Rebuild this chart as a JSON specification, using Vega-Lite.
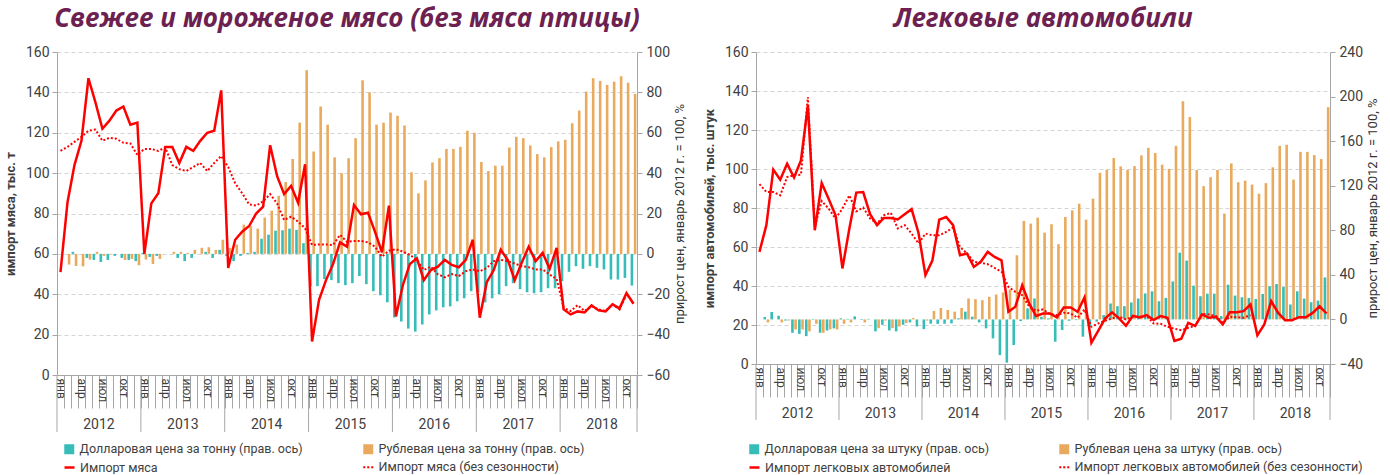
{
  "$schema": "https://vega.github.io/schema/vega-lite/v6.json",
  "padding": {"left": 4, "top": 6, "right": 0, "bottom": 0},
  "background": "white",
  "config": {
    "view": {"stroke": null},
    "font": "Roboto",
    "axis": {"labelFont": "Roboto", "titleFont": "Roboto", "labelColor": "#404040", "titleColor": "#404040", "domainColor": "#a6a6a6", "tickColor": "#a6a6a6", "labelFontSize": 14},
    "legend": {"labelFont": "Roboto", "labelFontSize": 12.5, "labelColor": "#404040", "labelLimit": 400},
    "title": {"font": "Open Sans"},
    "concat": {"spacing": 16}
  },
  "datasets": {
    "years": [
      {"m":"2012-07","yr":"2012"},{"m":"2013-07","yr":"2013"},{"m":"2014-07","yr":"2014"},{"m":"2015-07","yr":"2015"},{"m":"2016-07","yr":"2016"},{"m":"2017-07","yr":"2017"},{"m":"2018-07","yr":"2018"}
    ],
    "yearEnds": [
      {"m":"2012-12"},{"m":"2013-12"},{"m":"2014-12"},{"m":"2015-12"},{"m":"2016-12"},{"m":"2017-12"},{"m":"2018-11"}
    ],
    "yearStart": [{"m":"2012-01"}],
    "meat": [
      {"m":"2012-01","imp":51,"sa":111,"usd":0,"rub":0},
      {"m":"2012-02","imp":85.5,"sa":113,"usd":0,"rub":-5.3},
      {"m":"2012-03","imp":104,"sa":115.5,"usd":1,"rub":-6},
      {"m":"2012-04","imp":116,"sa":118,"usd":0,"rub":-6.2},
      {"m":"2012-05","imp":147,"sa":121,"usd":-2,"rub":-2.8},
      {"m":"2012-06","imp":135,"sa":121.6,"usd":-3,"rub":1},
      {"m":"2012-07","imp":122,"sa":116,"usd":-4,"rub":-1},
      {"m":"2012-08","imp":126,"sa":117.5,"usd":-3,"rub":-0.3},
      {"m":"2012-09","imp":131,"sa":117,"usd":-1,"rub":0},
      {"m":"2012-10","imp":133,"sa":115,"usd":-2,"rub":-3},
      {"m":"2012-11","imp":124,"sa":114.7,"usd":-3,"rub":-2.5},
      {"m":"2012-12","imp":125,"sa":109,"usd":-3.6,"rub":-5.6},
      {"m":"2013-01","imp":60,"sa":112,"usd":0.5,"rub":-2.8},
      {"m":"2013-02","imp":85,"sa":112,"usd":-1.5,"rub":-5},
      {"m":"2013-03","imp":90,"sa":111,"usd":-1,"rub":-2.5},
      {"m":"2013-04","imp":113,"sa":112.7,"usd":0,"rub":0},
      {"m":"2013-05","imp":113,"sa":104,"usd":0,"rub":1},
      {"m":"2013-06","imp":105,"sa":102,"usd":-2,"rub":1},
      {"m":"2013-07","imp":113,"sa":101,"usd":-3.6,"rub":0.5},
      {"m":"2013-08","imp":111,"sa":103,"usd":-2,"rub":2},
      {"m":"2013-09","imp":116,"sa":105,"usd":0,"rub":3},
      {"m":"2013-10","imp":120,"sa":101,"usd":1,"rub":3.3},
      {"m":"2013-11","imp":121,"sa":105,"usd":-2,"rub":2},
      {"m":"2013-12","imp":141,"sa":108.5,"usd":2,"rub":7},
      {"m":"2014-01","imp":53,"sa":103,"usd":-1,"rub":3},
      {"m":"2014-02","imp":67,"sa":95,"usd":-3.6,"rub":4.6},
      {"m":"2014-03","imp":71,"sa":90,"usd":-1,"rub":14.5},
      {"m":"2014-04","imp":73.8,"sa":84.5,"usd":0.5,"rub":13.7},
      {"m":"2014-05","imp":80,"sa":83.9,"usd":1,"rub":12.5},
      {"m":"2014-06","imp":83.4,"sa":86,"usd":7.5,"rub":18},
      {"m":"2014-07","imp":113.8,"sa":89.6,"usd":9.5,"rub":21.4},
      {"m":"2014-08","imp":98.5,"sa":85,"usd":11.5,"rub":28.8},
      {"m":"2014-09","imp":89.6,"sa":76.8,"usd":11.7,"rub":35.6},
      {"m":"2014-10","imp":93.7,"sa":78.4,"usd":12.5,"rub":47},
      {"m":"2014-11","imp":85.3,"sa":76,"usd":11.9,"rub":65},
      {"m":"2014-12","imp":104.4,"sa":72.7,"usd":5.3,"rub":91},
      {"m":"2015-01","imp":16.6,"sa":64.4,"usd":-16,"rub":50.7},
      {"m":"2015-02","imp":37.2,"sa":64.7,"usd":-16,"rub":73},
      {"m":"2015-03","imp":47,"sa":64.7,"usd":-12.5,"rub":64},
      {"m":"2015-04","imp":54.9,"sa":64.4,"usd":-13,"rub":47.8},
      {"m":"2015-05","imp":65.7,"sa":69.4,"usd":-14.5,"rub":40},
      {"m":"2015-06","imp":63.6,"sa":66,"usd":-15.5,"rub":47.4},
      {"m":"2015-07","imp":84.2,"sa":66.4,"usd":-14.5,"rub":57.3},
      {"m":"2015-08","imp":79.6,"sa":66.4,"usd":-11,"rub":86},
      {"m":"2015-09","imp":80.4,"sa":65.7,"usd":-15,"rub":80},
      {"m":"2015-10","imp":71,"sa":63.6,"usd":-18.5,"rub":64},
      {"m":"2015-11","imp":60.8,"sa":58.6,"usd":-20.5,"rub":65},
      {"m":"2015-12","imp":83.9,"sa":61.6,"usd":-24,"rub":70},
      {"m":"2016-01","imp":29,"sa":62.3,"usd":-31.5,"rub":68.4},
      {"m":"2016-02","imp":44.6,"sa":61.1,"usd":-33.5,"rub":63.6},
      {"m":"2016-03","imp":55,"sa":59.5,"usd":-37,"rub":40.4},
      {"m":"2016-04","imp":57.8,"sa":57,"usd":-38.5,"rub":30},
      {"m":"2016-05","imp":47,"sa":52,"usd":-35,"rub":36.4},
      {"m":"2016-06","imp":52,"sa":53.7,"usd":-30,"rub":45.3},
      {"m":"2016-07","imp":53.7,"sa":49.9,"usd":-28,"rub":47.4},
      {"m":"2016-08","imp":57,"sa":48.4,"usd":-26.5,"rub":52},
      {"m":"2016-09","imp":54.5,"sa":50,"usd":-26,"rub":52},
      {"m":"2016-10","imp":53.4,"sa":49,"usd":-23.5,"rub":53},
      {"m":"2016-11","imp":57,"sa":51.4,"usd":-22,"rub":61},
      {"m":"2016-12","imp":67,"sa":52.3,"usd":-18.5,"rub":60},
      {"m":"2017-01","imp":28.4,"sa":51.4,"usd":-19,"rub":45.5},
      {"m":"2017-02","imp":46,"sa":53,"usd":-24,"rub":41},
      {"m":"2017-03","imp":52,"sa":56.4,"usd":-22,"rub":43.7},
      {"m":"2017-04","imp":62,"sa":57,"usd":-20,"rub":43.7},
      {"m":"2017-05","imp":57,"sa":56.4,"usd":-16,"rub":52.7},
      {"m":"2017-06","imp":47,"sa":55.2,"usd":-14.5,"rub":58},
      {"m":"2017-07","imp":55.6,"sa":53.9,"usd":-17.5,"rub":57.3},
      {"m":"2017-08","imp":63.5,"sa":53.4,"usd":-19,"rub":53.7},
      {"m":"2017-09","imp":56.4,"sa":52.3,"usd":-19.5,"rub":49.4},
      {"m":"2017-10","imp":60.5,"sa":52.3,"usd":-19,"rub":47.8},
      {"m":"2017-11","imp":52.6,"sa":49.8,"usd":-17,"rub":52.9},
      {"m":"2017-12","imp":63,"sa":47.6,"usd":-17,"rub":55.7},
      {"m":"2018-01","imp":32.5,"sa":33.3,"usd":-13.5,"rub":56.5},
      {"m":"2018-02","imp":30,"sa":31.7,"usd":-8.9,"rub":64.7},
      {"m":"2018-03","imp":31.5,"sa":34.6,"usd":-6.1,"rub":71},
      {"m":"2018-04","imp":31,"sa":31.7,"usd":-7.4,"rub":80.4},
      {"m":"2018-05","imp":34.5,"sa":34.1,"usd":-6.1,"rub":87},
      {"m":"2018-06","imp":32,"sa":32.5,"usd":-6.9,"rub":85.7},
      {"m":"2018-07","imp":31.5,"sa":31.7,"usd":-7.7,"rub":83.7},
      {"m":"2018-08","imp":35,"sa":35,"usd":-12.7,"rub":85.3},
      {"m":"2018-09","imp":33,"sa":32.5,"usd":-12.7,"rub":88},
      {"m":"2018-10","imp":40.6,"sa":40,"usd":-11.9,"rub":84.8},
      {"m":"2018-11","imp":35.3,"sa":35.6,"usd":-15.7,"rub":79.2}
    ],
    "car": [
      {"m":"2012-01","imp":57.5,"sa":92.2,"usd":0,"rub":0},
      {"m":"2012-02","imp":71.2,"sa":88.2,"usd":2.2,"rub":-2.7},
      {"m":"2012-03","imp":99.7,"sa":88.2,"usd":6.7,"rub":0},
      {"m":"2012-04","imp":94.5,"sa":86.5,"usd":3.3,"rub":-2.7},
      {"m":"2012-05","imp":102.7,"sa":95.9,"usd":-1,"rub":-1},
      {"m":"2012-06","imp":95.6,"sa":96.8,"usd":-12,"rub":-9},
      {"m":"2012-07","imp":104.4,"sa":97.1,"usd":-13,"rub":-9},
      {"m":"2012-08","imp":132.6,"sa":136.9,"usd":-15,"rub":-10.7},
      {"m":"2012-09","imp":68.6,"sa":70.3,"usd":0.5,"rub":-3.9},
      {"m":"2012-10","imp":92.8,"sa":83.6,"usd":-12,"rub":-12},
      {"m":"2012-11","imp":84.8,"sa":79.7,"usd":-10,"rub":-9},
      {"m":"2012-12","imp":76.3,"sa":74.6,"usd":-8,"rub":-9},
      {"m":"2013-01","imp":49,"sa":79.7,"usd":1,"rub":-3.9},
      {"m":"2013-02","imp":69.5,"sa":86.5,"usd":0.5,"rub":-2.7},
      {"m":"2013-03","imp":87.9,"sa":78.3,"usd":2.7,"rub":0},
      {"m":"2013-04","imp":88.2,"sa":80.2,"usd":-0.5,"rub":-2.7},
      {"m":"2013-05","imp":76.8,"sa":74.6,"usd":0.5,"rub":0},
      {"m":"2013-06","imp":71.2,"sa":72,"usd":-10.7,"rub":-7.8},
      {"m":"2013-07","imp":74.9,"sa":76.3,"usd":-4.8,"rub":-1},
      {"m":"2013-08","imp":74.9,"sa":77.5,"usd":-9.9,"rub":-7.8},
      {"m":"2013-09","imp":74.1,"sa":69.5,"usd":-10.7,"rub":-6.3},
      {"m":"2013-10","imp":76.8,"sa":71.2,"usd":-4.8,"rub":-3.3},
      {"m":"2013-11","imp":79.4,"sa":66.9,"usd":-2.7,"rub":1.2},
      {"m":"2013-12","imp":67.2,"sa":61.8,"usd":-6.3,"rub":0},
      {"m":"2014-01","imp":45.6,"sa":66.9,"usd":-8.7,"rub":-1},
      {"m":"2014-02","imp":53,"sa":66,"usd":-3.8,"rub":7.6},
      {"m":"2014-03","imp":74,"sa":66,"usd":-4,"rub":10.3},
      {"m":"2014-04","imp":75.4,"sa":67.7,"usd":-3.8,"rub":8.5},
      {"m":"2014-05","imp":71.2,"sa":70,"usd":-3.5,"rub":7},
      {"m":"2014-06","imp":55.8,"sa":60,"usd":1,"rub":10.3},
      {"m":"2014-07","imp":56.7,"sa":56.7,"usd":7,"rub":18.8},
      {"m":"2014-08","imp":49.8,"sa":52.4,"usd":2.5,"rub":18.2},
      {"m":"2014-09","imp":52.4,"sa":51.9,"usd":-2.7,"rub":17.3},
      {"m":"2014-10","imp":57.5,"sa":51.2,"usd":-8,"rub":20.3},
      {"m":"2014-11","imp":54.9,"sa":49.3,"usd":-17,"rub":22.4},
      {"m":"2014-12","imp":53.2,"sa":47.3,"usd":-32,"rub":24.2},
      {"m":"2015-01","imp":26.8,"sa":39.6,"usd":-38.8,"rub":26.9},
      {"m":"2015-02","imp":29.4,"sa":37,"usd":-23,"rub":57.6},
      {"m":"2015-03","imp":40.4,"sa":35.3,"usd":-1.5,"rub":88.4},
      {"m":"2015-04","imp":31.1,"sa":29.4,"usd":9.9,"rub":86},
      {"m":"2015-05","imp":24.6,"sa":27.3,"usd":18.8,"rub":91.3},
      {"m":"2015-06","imp":25.9,"sa":28,"usd":2.4,"rub":77.9},
      {"m":"2015-07","imp":25.9,"sa":25.6,"usd":0.9,"rub":85.4},
      {"m":"2015-08","imp":23.9,"sa":25.1,"usd":-20,"rub":67.5},
      {"m":"2015-09","imp":29,"sa":26.3,"usd":-9.5,"rub":91.9},
      {"m":"2015-10","imp":29,"sa":25.9,"usd":-1.2,"rub":97.9},
      {"m":"2015-11","imp":26.8,"sa":23.7,"usd":-0.6,"rub":103.9},
      {"m":"2015-12","imp":34.1,"sa":28,"usd":-15.5,"rub":89.6},
      {"m":"2016-01","imp":10.9,"sa":19.1,"usd":-6.6,"rub":108.4},
      {"m":"2016-02","imp":17.1,"sa":20.8,"usd":-2,"rub":131.6},
      {"m":"2016-03","imp":23.4,"sa":22.2,"usd":3.9,"rub":134.3},
      {"m":"2016-04","imp":26.5,"sa":23.4,"usd":14.3,"rub":144.8},
      {"m":"2016-05","imp":23.4,"sa":24.2,"usd":11.9,"rub":137.3},
      {"m":"2016-06","imp":19.6,"sa":22.9,"usd":11.9,"rub":134.3},
      {"m":"2016-07","imp":24.7,"sa":24.2,"usd":15.2,"rub":137.6},
      {"m":"2016-08","imp":23.9,"sa":24.2,"usd":18.8,"rub":147.2},
      {"m":"2016-09","imp":25.1,"sa":24.6,"usd":23.3,"rub":154},
      {"m":"2016-10","imp":22.5,"sa":20.8,"usd":25.2,"rub":149.3},
      {"m":"2016-11","imp":24.6,"sa":20.6,"usd":16.3,"rub":138.9},
      {"m":"2016-12","imp":23.7,"sa":19.1,"usd":19.3,"rub":135},
      {"m":"2017-01","imp":11.8,"sa":18.1,"usd":34.1,"rub":155.8},
      {"m":"2017-02","imp":13,"sa":17.3,"usd":59.9,"rub":195.8},
      {"m":"2017-03","imp":21.1,"sa":18.6,"usd":52.8,"rub":181.6},
      {"m":"2017-04","imp":19.5,"sa":19.5,"usd":30.3,"rub":134.1},
      {"m":"2017-05","imp":25.4,"sa":25.7,"usd":20.8,"rub":119.6},
      {"m":"2017-06","imp":23.7,"sa":25.4,"usd":23.1,"rub":127.6},
      {"m":"2017-07","imp":24.2,"sa":24.6,"usd":23.1,"rub":134.1},
      {"m":"2017-08","imp":20.3,"sa":21.1,"usd":3,"rub":95},
      {"m":"2017-09","imp":26.6,"sa":24.2,"usd":31.2,"rub":140},
      {"m":"2017-10","imp":26.6,"sa":24,"usd":21.4,"rub":123.1},
      {"m":"2017-11","imp":27.1,"sa":23.7,"usd":19.9,"rub":124.6},
      {"m":"2017-12","imp":30.5,"sa":25.1,"usd":19.3,"rub":121},
      {"m":"2018-01","imp":14.7,"sa":null,"usd":18.4,"rub":112.8},
      {"m":"2018-02","imp":20.3,"sa":null,"usd":22.8,"rub":122.3},
      {"m":"2018-03","imp":32.2,"sa":null,"usd":29.7,"rub":136.5},
      {"m":"2018-04","imp":26.2,"sa":null,"usd":31.8,"rub":155.8},
      {"m":"2018-05","imp":22.5,"sa":null,"usd":29.1,"rub":156.7},
      {"m":"2018-06","imp":22.5,"sa":null,"usd":13.4,"rub":125.5},
      {"m":"2018-07","imp":24,"sa":null,"usd":25.2,"rub":150.4},
      {"m":"2018-08","imp":24,"sa":null,"usd":18.7,"rub":150.4},
      {"m":"2018-09","imp":26.2,"sa":null,"usd":15.4,"rub":147.5},
      {"m":"2018-10","imp":29.6,"sa":null,"usd":16.9,"rub":143.9},
      {"m":"2018-11","imp":25.9,"sa":null,"usd":37.7,"rub":190.5}
    ]
  },
  "hconcat": [
    {
      "width": 580,
      "height": 323,
      "title": {"text": "Свежее и мороженое мясо (без мяса птицы)", "fontSize": 26, "fontWeight": "bold", "fontStyle": "italic", "color": "#6d2150", "offset": 13, "anchor": "middle"},
      "layer": [
        {
          "data": {"name": "meat"},
          "transform": [{"fold": ["usd"], "as": ["s", "v"]}],
          "mark": {"type": "bar", "width": 2.6, "xOffset": -1.6},
          "encoding": {
            "x": {"field": "m", "type": "ordinal", "scale": {"paddingInner": 0, "paddingOuter": 0},
              "axis": {"orient": "bottom", "title": null, "tickOffset": 3.5, "labelOffset": -3.5, "tickSize": 33, "labelAngle": 90, "labelAlign": "left", "labelBaseline": "middle", "labelFontSize": 12, "labelPadding": -30, "labelOverlap": false,
                "labelExpr": "slice(''+datum.value,5)=='01'?'янв':slice(''+datum.value,5)=='04'?'апр':slice(''+datum.value,5)=='07'?'июл':slice(''+datum.value,5)=='10'?'окт':''"}},
            "y": {"field": "v", "type": "quantitative", "scale": {"domain": [-60, 100], "nice": false},
              "axis": {"orient": "right", "values": [-60, -40, -20, 0, 20, 40, 60, 80, 100], "grid": false, "tickSize": 5, "labelPadding": 4, "title": "прирост цен, январь 2012 г. = 100, %", "titleAngle": 270, "titleFontSize": 13, "titleFontWeight": "normal", "titleColor": "#333333", "titlePadding": 17}},
            "color": {"field": "s", "type": "nominal", "scale": {"domain": ["usd"], "range": ["#36bdb8"]},
              "legend": {"title": null, "orient": "none", "legendX": 6, "legendY": 391, "symbolType": "square", "labelExpr": "'Долларовая цена за тонну (прав. ось)'"}}
          }
        },
        {
          "data": {"name": "meat"},
          "transform": [{"fold": ["rub"], "as": ["s", "v"]}],
          "mark": {"type": "bar", "width": 2.6, "xOffset": 1.6},
          "encoding": {
            "x": {"field": "m", "type": "ordinal"},
            "y": {"field": "v", "type": "quantitative", "scale": {"domain": [-60, 100], "nice": false}, "axis": null},
            "color": {"field": "s", "type": "nominal", "scale": {"domain": ["rub"], "range": ["#e9aa5e"]},
              "legend": {"title": null, "orient": "none", "legendX": 305, "legendY": 391, "symbolType": "square", "labelExpr": "'Рублевая цена за тонну (прав. ось)'"}}
          }
        },
        {
          "data": {"name": "meat"},
          "transform": [{"fold": ["imp"], "as": ["s", "v"]}],
          "mark": {"type": "line", "strokeWidth": 2.5},
          "encoding": {
            "x": {"field": "m", "type": "ordinal"},
            "y": {"field": "v", "type": "quantitative", "scale": {"domain": [0, 160], "nice": false},
              "axis": {"orient": "left", "values": [0, 20, 40, 60, 80, 100, 120, 140, 160], "grid": true, "gridDash": [4, 3], "gridColor": "#d4d4d4", "tickSize": 5, "labelPadding": 3, "title": "импорт мяса, тыс. т", "titleFontSize": 13, "titleFontWeight": "bold", "titlePadding": 8}},
            "color": {"field": "s", "type": "nominal", "scale": {"domain": ["imp"], "range": ["#ff0000"]},
              "legend": {"title": null, "orient": "none", "legendX": 6, "legendY": 409, "symbolType": "stroke", "symbolStrokeWidth": 2.5, "labelExpr": "'Импорт мяса'"}}
          }
        },
        {
          "data": {"name": "meat"},
          "transform": [{"fold": ["sa"], "as": ["s", "v"]}],
          "mark": {"type": "line", "strokeWidth": 2, "strokeDash": [2, 2]},
          "encoding": {
            "x": {"field": "m", "type": "ordinal"},
            "y": {"field": "v", "type": "quantitative", "scale": {"domain": [0, 160], "nice": false}, "axis": null},
            "color": {"field": "s", "type": "nominal", "scale": {"domain": ["sa"], "range": ["#ff0000"]},
              "legend": {"title": null, "orient": "none", "legendX": 305, "legendY": 409, "symbolType": "stroke", "symbolStrokeWidth": 2, "symbolDash": [2, 2], "labelExpr": "'Импорт мяса (без сезонности)'"}}
          }
        },
        {
          "data": {"name": "years"},
          "mark": {"type": "text", "dx": -3.5, "fontSize": 14, "color": "#404040", "baseline": "middle"},
          "encoding": {
            "x": {"field": "m", "type": "ordinal"},
            "y": {"datum": -25, "type": "quantitative", "scale": {"domain": [0, 160], "nice": false}, "axis": null},
            "text": {"field": "yr"}
          }
        },
        {
          "data": {"name": "yearEnds"},
          "mark": {"type": "rule", "xOffset": 3.5, "color": "#a6a6a6", "strokeWidth": 1},
          "encoding": {
            "x": {"field": "m", "type": "ordinal"},
            "y": {"datum": 0, "type": "quantitative", "scale": {"domain": [0, 160], "nice": false}, "axis": null},
            "y2": {"datum": -28.2}
          }
        },
        {
          "data": {"name": "yearStart"},
          "mark": {"type": "rule", "xOffset": -3.5, "color": "#a6a6a6", "strokeWidth": 1},
          "encoding": {
            "x": {"field": "m", "type": "ordinal"},
            "y": {"datum": 0, "type": "quantitative", "scale": {"domain": [0, 160], "nice": false}, "axis": null},
            "y2": {"datum": -28.2}
          }
        }
      ],
      "resolve": {"scale": {"y": "independent", "color": "independent"}, "axis": {"y": "independent"}, "legend": {"color": "independent"}}
    },
    {
      "width": 574,
      "height": 312,
      "title": {"text": "Легковые автомобили", "fontSize": 26, "fontWeight": "bold", "fontStyle": "italic", "color": "#6d2150", "offset": 13, "anchor": "middle"},
      "layer": [
        {
          "data": {"name": "car"},
          "transform": [{"fold": ["usd"], "as": ["s", "v"]}],
          "mark": {"type": "bar", "width": 2.6, "xOffset": -1.6},
          "encoding": {
            "x": {"field": "m", "type": "ordinal", "scale": {"paddingInner": 0, "paddingOuter": 0},
              "axis": {"orient": "bottom", "title": null, "tickOffset": 3.46, "labelOffset": -3.46, "tickSize": 33, "labelAngle": 90, "labelAlign": "left", "labelBaseline": "middle", "labelFontSize": 12, "labelPadding": -30, "labelOverlap": false,
                "labelExpr": "slice(''+datum.value,5)=='01'?'янв':slice(''+datum.value,5)=='04'?'апр':slice(''+datum.value,5)=='07'?'июл':slice(''+datum.value,5)=='10'?'окт':''"}},
            "y": {"field": "v", "type": "quantitative", "scale": {"domain": [-40, 240], "nice": false},
              "axis": {"orient": "right", "values": [-40, 0, 40, 80, 120, 160, 200, 240], "grid": false, "tickSize": 5, "labelPadding": 4, "title": "прирост цен, январь 2012 г. = 100, %", "titleAngle": 270, "titleFontSize": 13, "titleFontWeight": "normal", "titleColor": "#333333", "titlePadding": 17}},
            "color": {"field": "s", "type": "nominal", "scale": {"domain": ["usd"], "range": ["#36bdb8"]},
              "legend": {"title": null, "orient": "none", "legendX": -8, "legendY": 391, "symbolType": "square", "labelExpr": "'Долларовая цена за штуку (прав. ось)'"}}
          }
        },
        {
          "data": {"name": "car"},
          "transform": [{"fold": ["rub"], "as": ["s", "v"]}],
          "mark": {"type": "bar", "width": 2.6, "xOffset": 1.6},
          "encoding": {
            "x": {"field": "m", "type": "ordinal"},
            "y": {"field": "v", "type": "quantitative", "scale": {"domain": [-40, 240], "nice": false}, "axis": null},
            "color": {"field": "s", "type": "nominal", "scale": {"domain": ["rub"], "range": ["#e9aa5e"]},
              "legend": {"title": null, "orient": "none", "legendX": 302, "legendY": 391, "symbolType": "square", "labelExpr": "'Рублевая цена за штуку (прав. ось)'"}}
          }
        },
        {
          "data": {"name": "car"},
          "transform": [{"fold": ["imp"], "as": ["s", "v"]}],
          "mark": {"type": "line", "strokeWidth": 2.5},
          "encoding": {
            "x": {"field": "m", "type": "ordinal"},
            "y": {"field": "v", "type": "quantitative", "scale": {"domain": [0, 160], "nice": false},
              "axis": {"orient": "left", "values": [0, 20, 40, 60, 80, 100, 120, 140, 160], "grid": true, "gridDash": [4, 3], "gridColor": "#d4d4d4", "tickSize": 5, "labelPadding": 3, "title": "импорт автомобилей, тыс. штук", "titleFontSize": 13, "titleFontWeight": "bold", "titlePadding": 8}},
            "color": {"field": "s", "type": "nominal", "scale": {"domain": ["imp"], "range": ["#ff0000"]},
              "legend": {"title": null, "orient": "none", "legendX": -8, "legendY": 409, "symbolType": "stroke", "symbolStrokeWidth": 2.5, "labelExpr": "'Импорт легковых автомобилей'"}}
          }
        },
        {
          "data": {"name": "car"},
          "transform": [{"fold": ["sa"], "as": ["s", "v"]}],
          "mark": {"type": "line", "strokeWidth": 2, "strokeDash": [2, 2]},
          "encoding": {
            "x": {"field": "m", "type": "ordinal"},
            "y": {"field": "v", "type": "quantitative", "scale": {"domain": [0, 160], "nice": false}, "axis": null},
            "color": {"field": "s", "type": "nominal", "scale": {"domain": ["sa"], "range": ["#ff0000"]},
              "legend": {"title": null, "orient": "none", "legendX": 302, "legendY": 409, "symbolType": "stroke", "symbolStrokeWidth": 2, "symbolDash": [2, 2], "labelExpr": "'Импорт легковых автомобилей (без сезонности)'"}}
          }
        },
        {
          "data": {"name": "years"},
          "mark": {"type": "text", "dx": -3.46, "fontSize": 14, "color": "#404040", "baseline": "middle"},
          "encoding": {
            "x": {"field": "m", "type": "ordinal"},
            "y": {"datum": -25.6, "type": "quantitative", "scale": {"domain": [0, 160], "nice": false}, "axis": null},
            "text": {"field": "yr"}
          }
        },
        {
          "data": {"name": "yearEnds"},
          "mark": {"type": "rule", "xOffset": 3.46, "color": "#a6a6a6", "strokeWidth": 1},
          "encoding": {
            "x": {"field": "m", "type": "ordinal"},
            "y": {"datum": 0, "type": "quantitative", "scale": {"domain": [0, 160], "nice": false}, "axis": null},
            "y2": {"datum": -28.7}
          }
        },
        {
          "data": {"name": "yearStart"},
          "mark": {"type": "rule", "xOffset": -3.46, "color": "#a6a6a6", "strokeWidth": 1},
          "encoding": {
            "x": {"field": "m", "type": "ordinal"},
            "y": {"datum": 0, "type": "quantitative", "scale": {"domain": [0, 160], "nice": false}, "axis": null},
            "y2": {"datum": -28.7}
          }
        }
      ],
      "resolve": {"scale": {"y": "independent", "color": "independent"}, "axis": {"y": "independent"}, "legend": {"color": "independent"}}
    }
  ],
  "resolve": {"scale": {"color": "independent"}, "legend": {"color": "independent"}}
}
